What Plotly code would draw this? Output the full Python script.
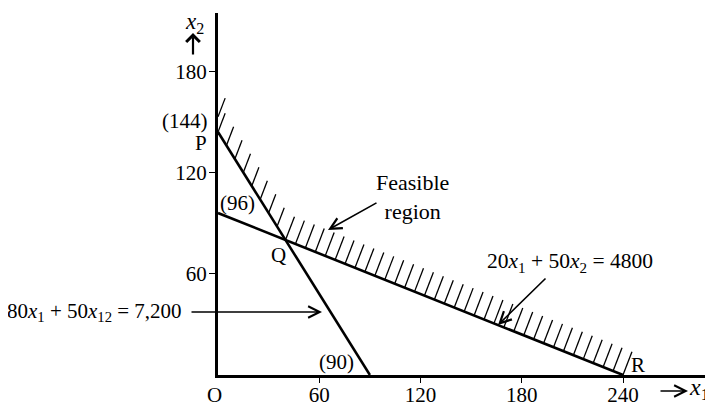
import plotly.graph_objects as go
import numpy as np

# ---------------- data ----------------
# constraint 1: 80 x1 + 50 x2 = 7200   constraint 2: 20 x1 + 50 x2 = 4800
c1 = [80, 50, 7200]
c2 = [20, 50, 4800]
x_ticks = [60, 120, 180, 240]
y_ticks = [60, 120, 180]
intercept_labels = ["(144)", "(96)", "(90)"]
point_labels = ["P", "Q", "R", "O"]

# ---------------- geometry from constraints ----------------
def x_int(c):
    return c[2] / c[0]

def y_int(c):
    return c[2] / c[1]

def y_on(c, x):
    return (c[2] - c[0] * x) / c[1]

# intersection Q
A = np.array([[c1[0], c1[1]], [c2[0], c2[1]]], dtype=float)
qx, qy = np.linalg.solve(A, np.array([c1[2], c2[2]], dtype=float))

# page offset of the figure (default body margin)
OFF = 8
FW, FH = 713 - OFF, 407 - OFF
SC = 1.6875
L, R, T, B = 218 - OFF, 6, 13 - OFF, 32
W = FW - L - R
H = FH - T - B
xmax = W / SC
ymax = H / SC

def PX(px):
    return (px - OFF - L) / W

def PY(py):
    return (FH - B - (py - OFF)) / H

fig = go.Figure()

# hatch strokes (feasible side)
ang = np.deg2rad(69)

def stroke(length):
    return length * np.cos(ang) / SC, length * np.sin(ang) / SC

hx, hy = [], []
starts = []
d1 = stroke(20)
d2 = stroke(25)
starts.append((0.0, y_int(c1) + 9.0, d1))
for xs in np.arange(0, qx - 1, 5.0):
    starts.append((xs, y_on(c1, xs), d1))
n2 = 34
for k in range(n2 + 1):
    xs = qx + (x_int(c2) - qx) * k / n2
    starts.append((xs, y_on(c2, xs), d2))
for xs, ys, (dx, dy) in starts:
    hx += [xs, xs + dx, None]
    hy += [ys, ys + dy, None]
fig.add_trace(go.Scatter(x=hx, y=hy, mode="lines", line=dict(color="black", width=1.3),
                         hoverinfo="skip", showlegend=False))

# constraint lines
fig.add_trace(go.Scatter(x=[0, x_int(c1)], y=[y_int(c1), 0], mode="lines",
                         line=dict(color="black", width=2.6), showlegend=False))
fig.add_trace(go.Scatter(x=[0, x_int(c2)], y=[y_int(c2), 0], mode="lines",
                         line=dict(color="black", width=2.6), showlegend=False))

FONT = "Liberation Serif"
anns = []

def txt(text, px, py, size=20, xanchor="center", yanchor="middle"):
    anns.append(dict(text=text, x=PX(px), y=PY(py), xref="paper", yref="paper",
                     showarrow=False, xanchor=xanchor, yanchor=yanchor,
                     font=dict(family=FONT, size=size, color="black")))

def arrow(hx_, hy_, ax, ay, head=5, size=1.4, width=1.6):
    anns.append(dict(text="", x=PX(hx_), y=PY(hy_), xref="paper", yref="paper",
                     ax=ax, ay=ay, showarrow=True, arrowhead=head, arrowsize=size,
                     arrowwidth=width, arrowcolor="black"))

txt("<i>x</i><sub>2</sub>", 194, 23, size=23)
arrow(193, 33, 0, 23, head=4, size=1.2, width=2.2)
txt(intercept_labels[0], 185, 121, size=21)
txt(point_labels[0], 201, 143, size=21)
txt(intercept_labels[1], 237, 203, size=21)
txt(point_labels[1], 278, 255, size=21)
txt("Feasible<br>region", 412, 197, size=22)
arrow(328, 230, 50, -28)
txt("20<i>x</i><sub>1</sub> + 50<i>x</i><sub>2</sub> = 4800", 485, 262, size=21.5, xanchor="left")
arrow(498, 325, 49, -48)
txt("80<i>x</i><sub>1</sub> + 50<i>x</i><sub>12</sub> = 7,200", 184, 312, size=21, xanchor="right")
arrow(322, 312, -132, 0)
txt(intercept_labels[2], 336, 362, size=21)
txt(point_labels[3], 214, 395, size=21)
txt(point_labels[2], 638, 365, size=21)
arrow(688, 391, -29, 0)
txt("<i>x</i><sub>1</sub>", 711, 389, size=24, xanchor="right")

fig.update_layout(
    width=FW, height=FH,
    margin=dict(l=L, r=R, t=T, b=B, autoexpand=False),
    paper_bgcolor="white", plot_bgcolor="white",
    showlegend=False,
    annotations=anns,
    xaxis=dict(range=[0, xmax], tickvals=x_ticks, ticktext=[str(v) for v in x_ticks],
               showgrid=False, zeroline=False, showline=True, linewidth=3, linecolor="black",
               ticks="outside", ticklen=5, tickwidth=1.3, tickcolor="black", automargin=False,
               ticklabelstandoff=-6,
               tickfont=dict(family=FONT, size=21, color="black")),
    yaxis=dict(range=[0, ymax], tickvals=y_ticks, ticktext=[str(v) for v in y_ticks],
               showgrid=False, zeroline=False, showline=True, linewidth=3, linecolor="black",
               ticks="outside", ticklen=6, tickwidth=1.3, tickcolor="black", automargin=False,
               ticklabelstandoff=-2,
               tickfont=dict(family=FONT, size=21, color="black")),
)

fig.write_html("out.html")
